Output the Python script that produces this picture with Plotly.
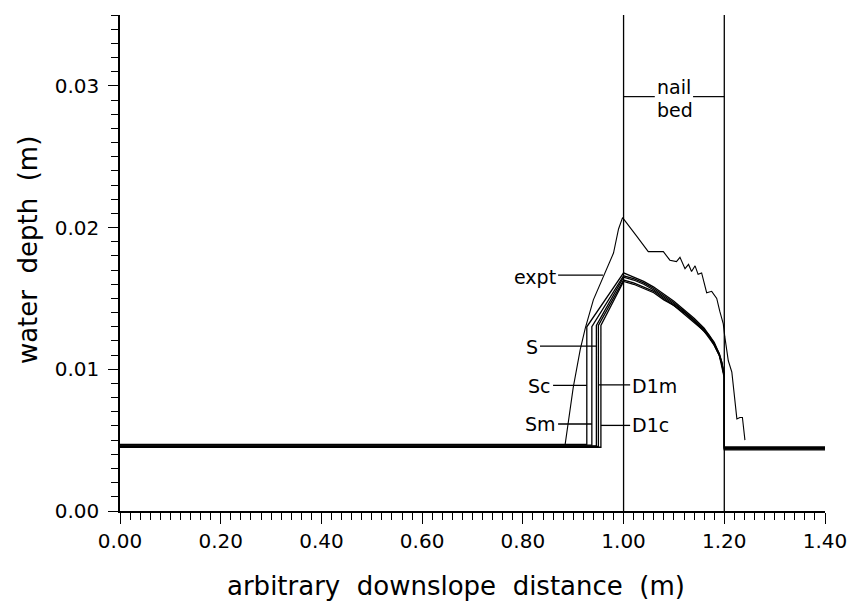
import plotly.graph_objects as go

# ---------------- data ----------------
x_ticks = [0.0, 0.2, 0.4, 0.6, 0.8, 1.0, 1.2, 1.4]
x_tick_labels = ["0.00", "0.20", "0.40", "0.60", "0.80", "1.00", "1.20", "1.40"]
y_ticks = [0.0, 0.01, 0.02, 0.03]
y_tick_labels = ["0.00", "0.01", "0.02", "0.03"]

nail_bed = [1.0, 1.2]

# experimental profile
expt_x = [0.884, 0.900, 0.914, 0.924, 0.940, 0.957, 0.967, 0.974, 0.980, 0.990, 0.998,
          1.026, 1.049, 1.065, 1.079, 1.092, 1.105, 1.112, 1.122, 1.129, 1.135, 1.142,
          1.148, 1.155, 1.165, 1.175, 1.185, 1.191, 1.198, 1.201, 1.208, 1.215, 1.221,
          1.225, 1.231, 1.236, 1.241]
expt_y = [0.0047, 0.0087, 0.0114, 0.0129, 0.0149, 0.0163, 0.0170, 0.0176, 0.0182, 0.0199, 0.0207,
          0.0194, 0.0183, 0.0183, 0.0183, 0.0177, 0.0176, 0.0179, 0.0171, 0.0174, 0.0169, 0.0173,
          0.0167, 0.0168, 0.0154, 0.0155, 0.0150, 0.0141, 0.0132, 0.0123, 0.0106, 0.0098, 0.0080,
          0.0065, 0.0066, 0.0066, 0.0050]

# model profiles
model_names = ["Sc", "Sm", "S", "D1m", "D1c"]
front_x = [0.927, 0.937, 0.946, 0.950, 0.955]
front_top = [0.0130, 0.0130, 0.0131, 0.0131, 0.0131]
base_up = [0.00470, 0.00465, 0.00460, 0.00455, 0.00450]
base_down = [0.00452, 0.00447, 0.00442, 0.00437, 0.00432]
bed_x = [1.00, 1.02, 1.04, 1.06, 1.08, 1.10, 1.12, 1.14, 1.16, 1.17, 1.18, 1.19, 1.195, 1.20]
bed_y = {
    "Sc":  [0.0168, 0.0165, 0.0162, 0.0158, 0.0153, 0.0148, 0.0142, 0.0136, 0.0129, 0.0124, 0.0119, 0.0111, 0.0105, 0.0096],
    "Sm":  [0.0166, 0.0164, 0.0161, 0.0157, 0.0152, 0.0147, 0.0141, 0.0135, 0.0128, 0.0124, 0.0118, 0.0111, 0.0105, 0.0096],
    "S":   [0.0165, 0.0163, 0.0160, 0.0156, 0.0151, 0.0146, 0.0141, 0.0134, 0.0128, 0.0123, 0.0118, 0.0110, 0.0104, 0.0095],
    "D1m": [0.0163, 0.0161, 0.0158, 0.0155, 0.0150, 0.0145, 0.0140, 0.0134, 0.0127, 0.0123, 0.0117, 0.0110, 0.0104, 0.0095],
    "D1c": [0.0162, 0.0160, 0.0157, 0.0154, 0.0149, 0.0145, 0.0139, 0.0133, 0.0127, 0.0122, 0.0117, 0.0110, 0.0103, 0.0094],
}
x_start, x_end = 0.0, 1.4

# ---------------- figure ----------------
FONT = "DejaVu Sans"
fig = go.Figure()

for i, name in enumerate(model_names):
    xs = [x_start, front_x[i], front_x[i]] + bed_x + [bed_x[-1], x_end]
    ys = [base_up[i], base_up[i], front_top[i]] + bed_y[name] + [base_down[i], base_down[i]]
    fig.add_trace(go.Scatter(x=xs, y=ys, mode="lines", name=name,
                             line=dict(color="black", width=1.3), cliponaxis=False))

fig.add_trace(go.Scatter(x=expt_x, y=expt_y, mode="lines", name="expt",
                         line=dict(color="black", width=1.1)))

# nail bed boundaries
for xb in nail_bed:
    fig.add_shape(type="line", xref="x", yref="paper", x0=xb, x1=xb, y0=0, y1=1,
                  line=dict(color="black", width=1.3))

# label leaders: (text, text_x, text_y, anchor, x0, x1, y)
labels = [
    ("expt", 0.870, 0.01651, "right", 0.870, 0.959, 0.01665),
    ("S",    0.834, 0.01159, "right", 0.834, 0.946, 0.01164),
    ("Sc",   0.860, 0.00882, "right", 0.860, 0.927, 0.00887),
    ("Sm",   0.870, 0.00614, "right", 0.870, 0.937, 0.00614),
    ("D1m",  1.013, 0.00880, "left",  0.950, 1.013, 0.00890),
    ("D1c",  1.013, 0.00604, "left",  0.955, 1.013, 0.00604),
]
for text, tx, ty, anc, x0, x1, ly in labels:
    fig.add_shape(type="line", xref="x", yref="y", x0=x0, x1=x1, y0=ly, y1=ly,
                  line=dict(color="black", width=1.3))
    fig.add_annotation(x=tx, y=ty, xref="x", yref="y", text=text, showarrow=False,
                       xanchor=anc, yanchor="middle",
                       font=dict(family=FONT, size=19, color="black"))

# nail bed annotation
fig.add_shape(type="line", xref="x", yref="y", x0=1.0, x1=1.062, y0=0.02924, y1=0.02924,
              line=dict(color="black", width=1.2))
fig.add_shape(type="line", xref="x", yref="y", x0=1.138, x1=1.2, y0=0.02924, y1=0.02924,
              line=dict(color="black", width=1.2))
fig.add_annotation(x=1.100, y=0.02994, xref="x", yref="y", text="nail", showarrow=False,
                   font=dict(family=FONT, size=19, color="black"))
fig.add_annotation(x=1.102, y=0.0283, xref="x", yref="y", text="bed", showarrow=False,
                   font=dict(family=FONT, size=19, color="black"))

# axis titles
fig.add_annotation(x=0.4766, y=-0.151, xref="paper", yref="paper",
                   text="arbitrary\u00a0\u00a0downslope\u00a0\u00a0distance\u00a0\u00a0(m)",
                   showarrow=False, xanchor="center", yanchor="middle",
                   font=dict(family=FONT, size=26, color="black"))
fig.add_annotation(x=-0.1305, y=0.526, xref="paper", yref="paper",
                   text="water\u00a0\u00a0depth\u00a0\u00a0(m)", textangle=-90,
                   showarrow=False, xanchor="center", yanchor="middle",
                   font=dict(family=FONT, size=26, color="black"))

fig.update_layout(
    width=848, height=608,
    margin=dict(l=120, r=23, t=15, b=97, autoexpand=False),
    plot_bgcolor="white", paper_bgcolor="white",
    showlegend=False,
)
fig.update_xaxes(
    range=[0, 1.4], showgrid=False, zeroline=False, automargin=False,
    showline=True, linecolor="black", linewidth=1.5,
    tickmode="array", tickvals=x_ticks, ticktext=x_tick_labels,
    ticks="outside", ticklen=11, tickwidth=1.3, tickcolor="black",
    tickfont=dict(family=FONT, size=20, color="black"),
    minor=dict(tickmode="linear", tick0=0, dtick=0.02, ticks="outside", ticklen=7,
               tickwidth=1, tickcolor="black", showgrid=False),
)
fig.update_yaxes(
    range=[0, 0.035], showgrid=False, zeroline=False, automargin=False,
    showline=True, linecolor="black", linewidth=1.5,
    tickmode="array", tickvals=y_ticks, ticktext=y_tick_labels,
    ticks="outside", ticklen=10, tickwidth=1.3, tickcolor="black",
    ticklabelstandoff=5,
    tickfont=dict(family=FONT, size=20, color="black"),
    minor=dict(tickmode="linear", tick0=0, dtick=0.001, ticks="outside", ticklen=7,
               tickwidth=1, tickcolor="black", showgrid=False),
)

fig.write_html("out.html")
